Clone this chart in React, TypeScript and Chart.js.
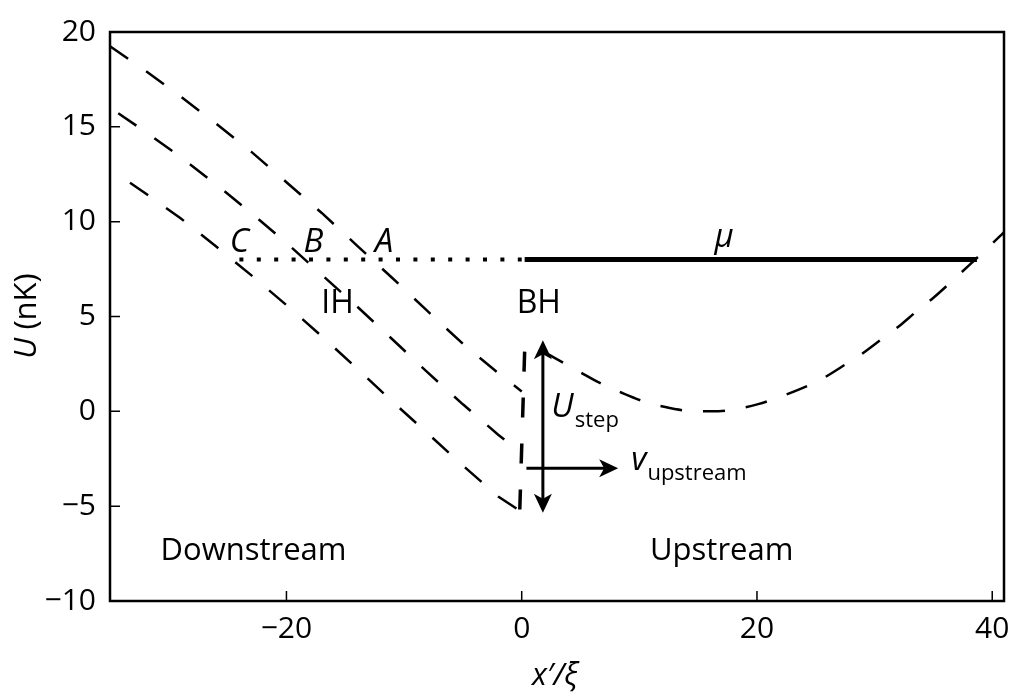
import React, { useEffect, useRef } from "react";
import { Chart, registerables } from "chart.js";

Chart.register(...registerables);

// Axis ranges and ticks
const X_MIN = -35;
const X_MAX = 41;
const Y_MIN = -10;
const Y_MAX = 20;
const X_TICKS = [-20, 0, 20, 40];
const Y_TICKS = [-10, -5, 0, 5, 10, 15, 20];

// Downstream potential profiles (x'/ξ, U in nK)
const A_X = [-35, -32, -29, -26, -23, -20, -17, -14, -11, -8, -5, -2, 0];
const A_Y = [19.25, 17.96, 16.6, 15.18, 13.69, 12.08, 10.46, 8.74, 7.03, 5.28, 3.56, 2.02, 1.05];

const B_X = [-34.3, -32, -29, -26, -23, -20, -17, -14, -11, -8, -5, -2, 0];
const B_Y = [15.72, 14.74, 13.41, 11.97, 10.46, 8.88, 7.2, 5.53, 3.8, 2.05, 0.37, -1.23, -2.2];

const C_X = [-33.3, -32, -29, -26, -23, -20, -17, -14, -11, -8, -5, -2, 0];
const C_Y = [12.05, 11.5, 10.18, 8.7, 7.18, 5.6, 3.96, 2.26, 0.52, -1.16, -2.86, -4.49, -5.3];

// Upstream potential well
const UP_X = [0.3, 2.1, 4.9, 6.6, 8.5, 10.3, 12.1, 14.1, 16.2, 18.1, 20.1, 21.9, 23.7, 25.5, 27.3, 28.9, 30.5, 32.1, 33.6, 35.1, 36.6, 38.0, 39.4, 40.7, 41];
const UP_Y = [3.65, 3.06, 2.09, 1.51, 0.98, 0.54, 0.24, 0.03, 0.0, 0.1, 0.38, 0.75, 1.18, 1.7, 2.39, 3.02, 3.76, 4.5, 5.29, 6.04, 6.88, 7.68, 8.5, 9.26, 9.45];

// Potential step at the horizon
const STEP_X = [0.25, -0.17];
const STEP_Y = [3.15, -5.3];

// Chemical potential μ: dotted inside the downstream region, solid upstream
const MU = 8;
const MU_DOTTED_X = [-24, 0];
const MU_SOLID_X = [0.25, 38.7];

// Arrows: step height and flow velocity
const STEP_ARROW = { x: 1.8, from: -5.35, to: 3.75 };
const FLOW_ARROW = { y: -3.0, from: 0.4, to: 8.2 };

const FONT = '"Open Sans", "DejaVu Sans", sans-serif';

const pts = (xs: number[], ys: number[]) => xs.map((x, i) => ({ x, y: ys[i] }));
const fmt = (v: number) => (v < 0 ? "\u2212" + Math.abs(v) : String(v));

function drawArrowHead(ctx: CanvasRenderingContext2D, tx: number, ty: number, dx: number, dy: number, len: number, w: number) {
  const px = -dy, py = dx;
  const bx = tx - dx * len, by = ty - dy * len;
  const nx = tx - dx * (len - 5), ny = ty - dy * (len - 5);
  ctx.beginPath();
  ctx.moveTo(tx, ty);
  ctx.lineTo(bx + px * w / 2, by + py * w / 2);
  ctx.lineTo(nx, ny);
  ctx.lineTo(bx - px * w / 2, by - py * w / 2);
  ctx.closePath();
  ctx.fill();
}

const overlay = {
  id: "overlay",
  afterDatasetsDraw(chart: any) {
    const { ctx, chartArea, scales } = chart;
    const { left, right, top, bottom } = chartArea;
    const xs = scales.x, ys = scales.y;
    const X = (v: number) => xs.getPixelForValue(v);
    const Y = (v: number) => ys.getPixelForValue(v);
    ctx.save();
    ctx.strokeStyle = "#000";
    ctx.fillStyle = "#000";

    // inward tick marks
    ctx.lineWidth = 1.5;
    ctx.beginPath();
    X_TICKS.forEach((v) => {
      const p = X(v);
      if (p > left + 2 && p < right - 2) {
        ctx.moveTo(p, bottom);
        ctx.lineTo(p, bottom - 10);
      }
    });
    Y_TICKS.forEach((v) => {
      const p = Y(v);
      if (p > top + 2 && p < bottom - 2) {
        ctx.moveTo(left, p);
        ctx.lineTo(left + 10, p);
      }
    });
    ctx.stroke();

    // frame
    ctx.lineWidth = 2.5;
    ctx.strokeRect(left, top, right - left, bottom - top);

    // step arrow (double headed, vertical)
    const ax = X(STEP_ARROW.x);
    const ay0 = Y(STEP_ARROW.from);
    const ay1 = Y(STEP_ARROW.to);
    ctx.lineWidth = 3;
    ctx.beginPath();
    ctx.moveTo(ax, ay0 - 12);
    ctx.lineTo(ax, ay1 + 12);
    ctx.stroke();
    drawArrowHead(ctx, ax, ay1, 0, -1, 19, 18);
    drawArrowHead(ctx, ax, ay0, 0, 1, 19, 18);

    // flow arrow (horizontal)
    const fy = Y(FLOW_ARROW.y);
    const fx0 = X(FLOW_ARROW.from);
    const fx1 = X(FLOW_ARROW.to);
    ctx.beginPath();
    ctx.moveTo(fx0, fy);
    ctx.lineTo(fx1 - 12, fy);
    ctx.stroke();
    drawArrowHead(ctx, fx1, fy, 1, 0, 19, 18);

    // text labels
    const text = (s: string, x: number, y: number, font: string, align: CanvasTextAlign = "center") => {
      ctx.font = font;
      ctx.textAlign = align;
      ctx.textBaseline = "alphabetic";
      ctx.fillText(s, x, y);
      return ctx.measureText(s).width;
    };
    const itBig = `italic 33px ${FONT}`;
    const it = `italic 31px ${FONT}`;
    const rg = `31px ${FONT}`;
    const sub = `22px ${FONT}`;

    text("C", X(-24.0), Y(8.41), itBig);
    text("B", X(-17.7), Y(8.41), itBig);
    text("A", X(-11.7), Y(8.41), itBig);
    text("\u03bc", X(17.2), Y(8.68), itBig);
    text("IH", X(-15.66), Y(5.17), `32px ${FONT}`);
    text("BH", X(1.45), Y(5.17), `32px ${FONT}`);
    text("Downstream", X(-22.8), Y(-7.84), rg);
    text("Upstream", X(17.0), Y(-7.84), rg);

    let ux = X(2.52);
    ux += text("U", ux, Y(-0.28), itBig, "left");
    text("step", ux + 1, Y(-0.81), sub, "left");

    let vx = X(9.31);
    vx += text("v", vx, Y(-3.07), itBig, "left");
    text("upstream", vx + 1, Y(-3.62), sub, "left");

    // axis titles
    ctx.font = it;
    const xt1 = "x\u2032/";
    const xt2 = "\u03be";
    const w1 = ctx.measureText(xt1).width;
    const w2 = ctx.measureText(xt2).width;
    const cx = (left + right) / 2 - 2;
    text(xt1, cx - (w1 + w2) / 2, 685, it, "left");
    text(xt2, cx - (w1 + w2) / 2 + w1, 685, it, "left");

    ctx.save();
    ctx.translate(36, 316);
    ctx.rotate(-Math.PI / 2);
    ctx.font = it;
    const uw = ctx.measureText("U ").width;
    ctx.font = rg;
    const nw = ctx.measureText("(nK)").width;
    text("U ", -(uw + nw) / 2, 0, it, "left");
    text("(nK)", -(uw + nw) / 2 + uw, 0, rg, "left");
    ctx.restore();

    ctx.restore();
  },
};

export default function App() {
  const ref = useRef<HTMLCanvasElement | null>(null);

  useEffect(() => {
    document.body.style.margin = "0";
    const canvas = ref.current;
    if (!canvas) return;

    const dashed = { borderColor: "#000", borderWidth: 2.5, borderDash: [22, 22], pointRadius: 0, borderCapStyle: "butt" as const };

    const chart = new Chart(canvas, {
      type: "line",
      data: {
        datasets: [
          { ...dashed, data: pts(A_X, A_Y) },
          { ...dashed, data: pts(B_X, B_Y) },
          { ...dashed, data: pts(C_X, C_Y) },
          { ...dashed, data: pts(UP_X, UP_Y), borderDash: [22, 21], borderDashOffset: 22, cubicInterpolationMode: "monotone" },
          { ...dashed, borderWidth: 3.5, borderDash: [20, 26], data: pts(STEP_X, STEP_Y) },
          {
            borderColor: "#000", borderWidth: 4, borderDash: [4, 13.4], pointRadius: 0, borderCapStyle: "butt",
            data: MU_DOTTED_X.map((x) => ({ x, y: MU })),
          },
          {
            borderColor: "#000", borderWidth: 5, pointRadius: 0, borderCapStyle: "butt",
            data: MU_SOLID_X.map((x) => ({ x, y: MU })),
          },
        ] as any,
      },
      options: {
        responsive: false,
        animation: false,
        devicePixelRatio: 1,
        layout: { padding: { top: 32, right: 9, left: 0, bottom: 0 } },
        plugins: { legend: { display: false }, tooltip: { enabled: false } },
        elements: { point: { radius: 0 }, line: { tension: 0 } },
        scales: {
          x: {
            type: "linear",
            min: X_MIN,
            max: X_MAX,
            grid: { display: false, drawTicks: false },
            border: { display: false },
            afterBuildTicks: (s: any) => {
              s.ticks = X_TICKS.map((value) => ({ value }));
            },
            afterFit: (s: any) => {
              s.height = 92;
              s.paddingLeft = 0;
              s.paddingRight = 0;
            },
            ticks: {
              color: "#000",
              font: { family: FONT, size: 30 },
              padding: 10,
              maxRotation: 0,
              autoSkip: false,
              callback: (v: any) => fmt(Number(v)),
            },
          },
          y: {
            type: "linear",
            min: Y_MIN,
            max: Y_MAX,
            grid: { display: false, drawTicks: false },
            border: { display: false },
            afterBuildTicks: (s: any) => {
              s.ticks = Y_TICKS.map((value) => ({ value }));
            },
            afterFit: (s: any) => {
              s.width = 110;
              s.paddingTop = 0;
              s.paddingBottom = 0;
            },
            ticks: {
              color: "#000",
              font: { family: FONT, size: 30 },
              padding: 14,
              autoSkip: false,
              callback: (v: any) => fmt(Number(v)),
            },
          },
        },
      },
      plugins: [overlay],
    });

    return () => chart.destroy();
  }, []);

  return <canvas ref={ref} width={1013} height={693} style={{ display: "block" }} />;
}
